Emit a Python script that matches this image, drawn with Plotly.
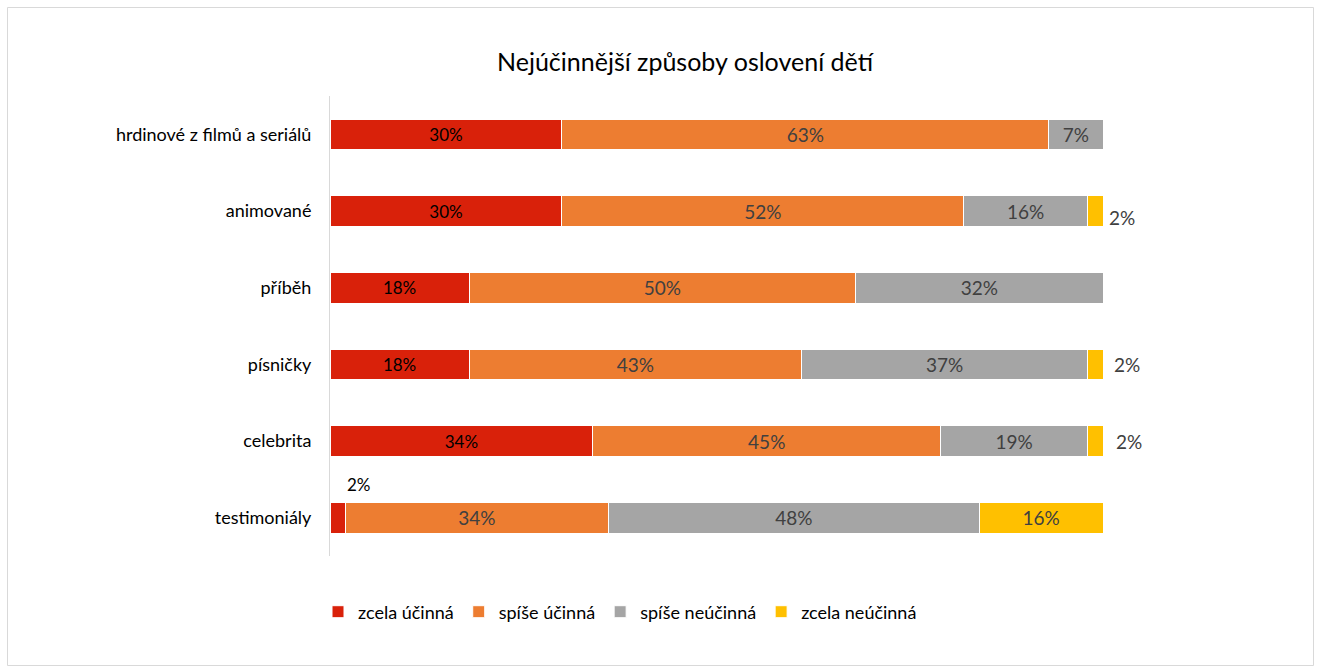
import plotly.graph_objects as go

categories = ["hrdinové z filmů a seriálů", "animované", "příběh", "písničky", "celebrita", "testimoniály"]
series_names = ["zcela účinná", "spíše účinná", "spíše neúčinná", "zcela neúčinná"]
zcela_ucinna = [30, 30, 18, 18, 34, 2]
spise_ucinna = [63, 52, 50, 43, 45, 34]
spise_neucinna = [7, 16, 32, 37, 19, 48]
zcela_neucinna = [0, 2, 0, 2, 2, 16]

colors = ["#D9210A", "#ED7D31", "#A5A5A5", "#FFC000"]
label_colors = ["#000000", "#404040", "#404040", "#404040"]
label_sizes = [17, 19, 19, 19]
FONT = "Lato"

W, H = 1320, 666
L, R, T, B = 330, 217, 96, 110
PW, PH = W - L - R, H - T - B

def px_x(px):
    return (px - L) / PW

def px_y(py):
    return (H - B - py) / PH

fig = go.Figure()
all_series = [zcela_ucinna, spise_ucinna, spise_neucinna, zcela_neucinna]
SMALL = 3  # values below this get an outside label
for name, vals, col, lc, ls in zip(series_names, all_series, colors, label_colors, label_sizes):
    texts = [f"{v}%" if v >= SMALL else "" for v in vals]
    fig.add_trace(go.Bar(
        y=categories, x=vals, name=name, orientation="h",
        marker=dict(color=col, line=dict(color="white", width=1)),
        text=texts, textposition="inside", insidetextanchor="middle",
        textfont=dict(family=FONT, size=ls, color=lc),
        constraintext="none", hoverinfo="skip",
    ))

# outside labels for small values
yshift_small = {"animované": -6}
xshift_small = {"animované": 4, "písničky": 9, "celebrita": 11}
for i, cat in enumerate(categories):
    v = zcela_neucinna[i]
    if 0 < v < SMALL:
        total = zcela_ucinna[i] + spise_ucinna[i] + spise_neucinna[i] + v
        fig.add_annotation(x=total, y=cat, text=f"{v}%", showarrow=False,
                           xanchor="left", xshift=xshift_small.get(cat, 6),
                           yshift=yshift_small.get(cat, 0),
                           font=dict(family=FONT, size=19, color="#404040"))
    r = zcela_ucinna[i]
    if 0 < r < SMALL:
        fig.add_annotation(x=r, y=cat, text=f"{r}%", showarrow=False,
                           xanchor="center", xshift=14, yshift=33,
                           font=dict(family=FONT, size=17, color="#000000"))

fig.add_annotation(x=px_x(686), y=px_y(61), xref="paper", yref="paper",
                   text="Nejúčinnější způsoby oslovení dětí", showarrow=False,
                   xanchor="center", yanchor="middle",
                   font=dict(family=FONT, size=25, color="#000000"))

fig.add_shape(type="rect", xref="paper", yref="paper",
              x0=px_x(7.5), x1=px_x(1313.5), y0=px_y(665.5), y1=px_y(7.5),
              line=dict(color="#D9D9D9", width=1), fillcolor="rgba(0,0,0,0)", layer="below")

fig.update_layout(
    width=W, height=H, barmode="stack", bargap=0.6,
    margin=dict(l=L, r=R, t=T, b=B),
    paper_bgcolor="white", plot_bgcolor="white",
    font=dict(family=FONT, size=15, color="#000000"),
    showlegend=True,
    legend=dict(orientation="h", x=px_x(318), xanchor="left", y=px_y(612), yanchor="middle",
                font=dict(family=FONT, size=18, color="#000000"), traceorder="normal",
                itemwidth=30, tracegroupgap=0),
    uniformtext=dict(mode=False),
)
fig.update_xaxes(range=[0, 100], showgrid=False, zeroline=False, showticklabels=False,
                 showline=False, fixedrange=True)
fig.update_yaxes(categoryorder="array", categoryarray=categories[::-1], autorange=False,
                 range=[-0.5, len(categories) - 0.5],
                 showgrid=False, zeroline=False, showline=True, linecolor="#D9D9D9", linewidth=1,
                 ticks="", ticklabelstandoff=14,
                 tickfont=dict(family=FONT, size=18, color="#000000"))

fig.write_html("out.html")
